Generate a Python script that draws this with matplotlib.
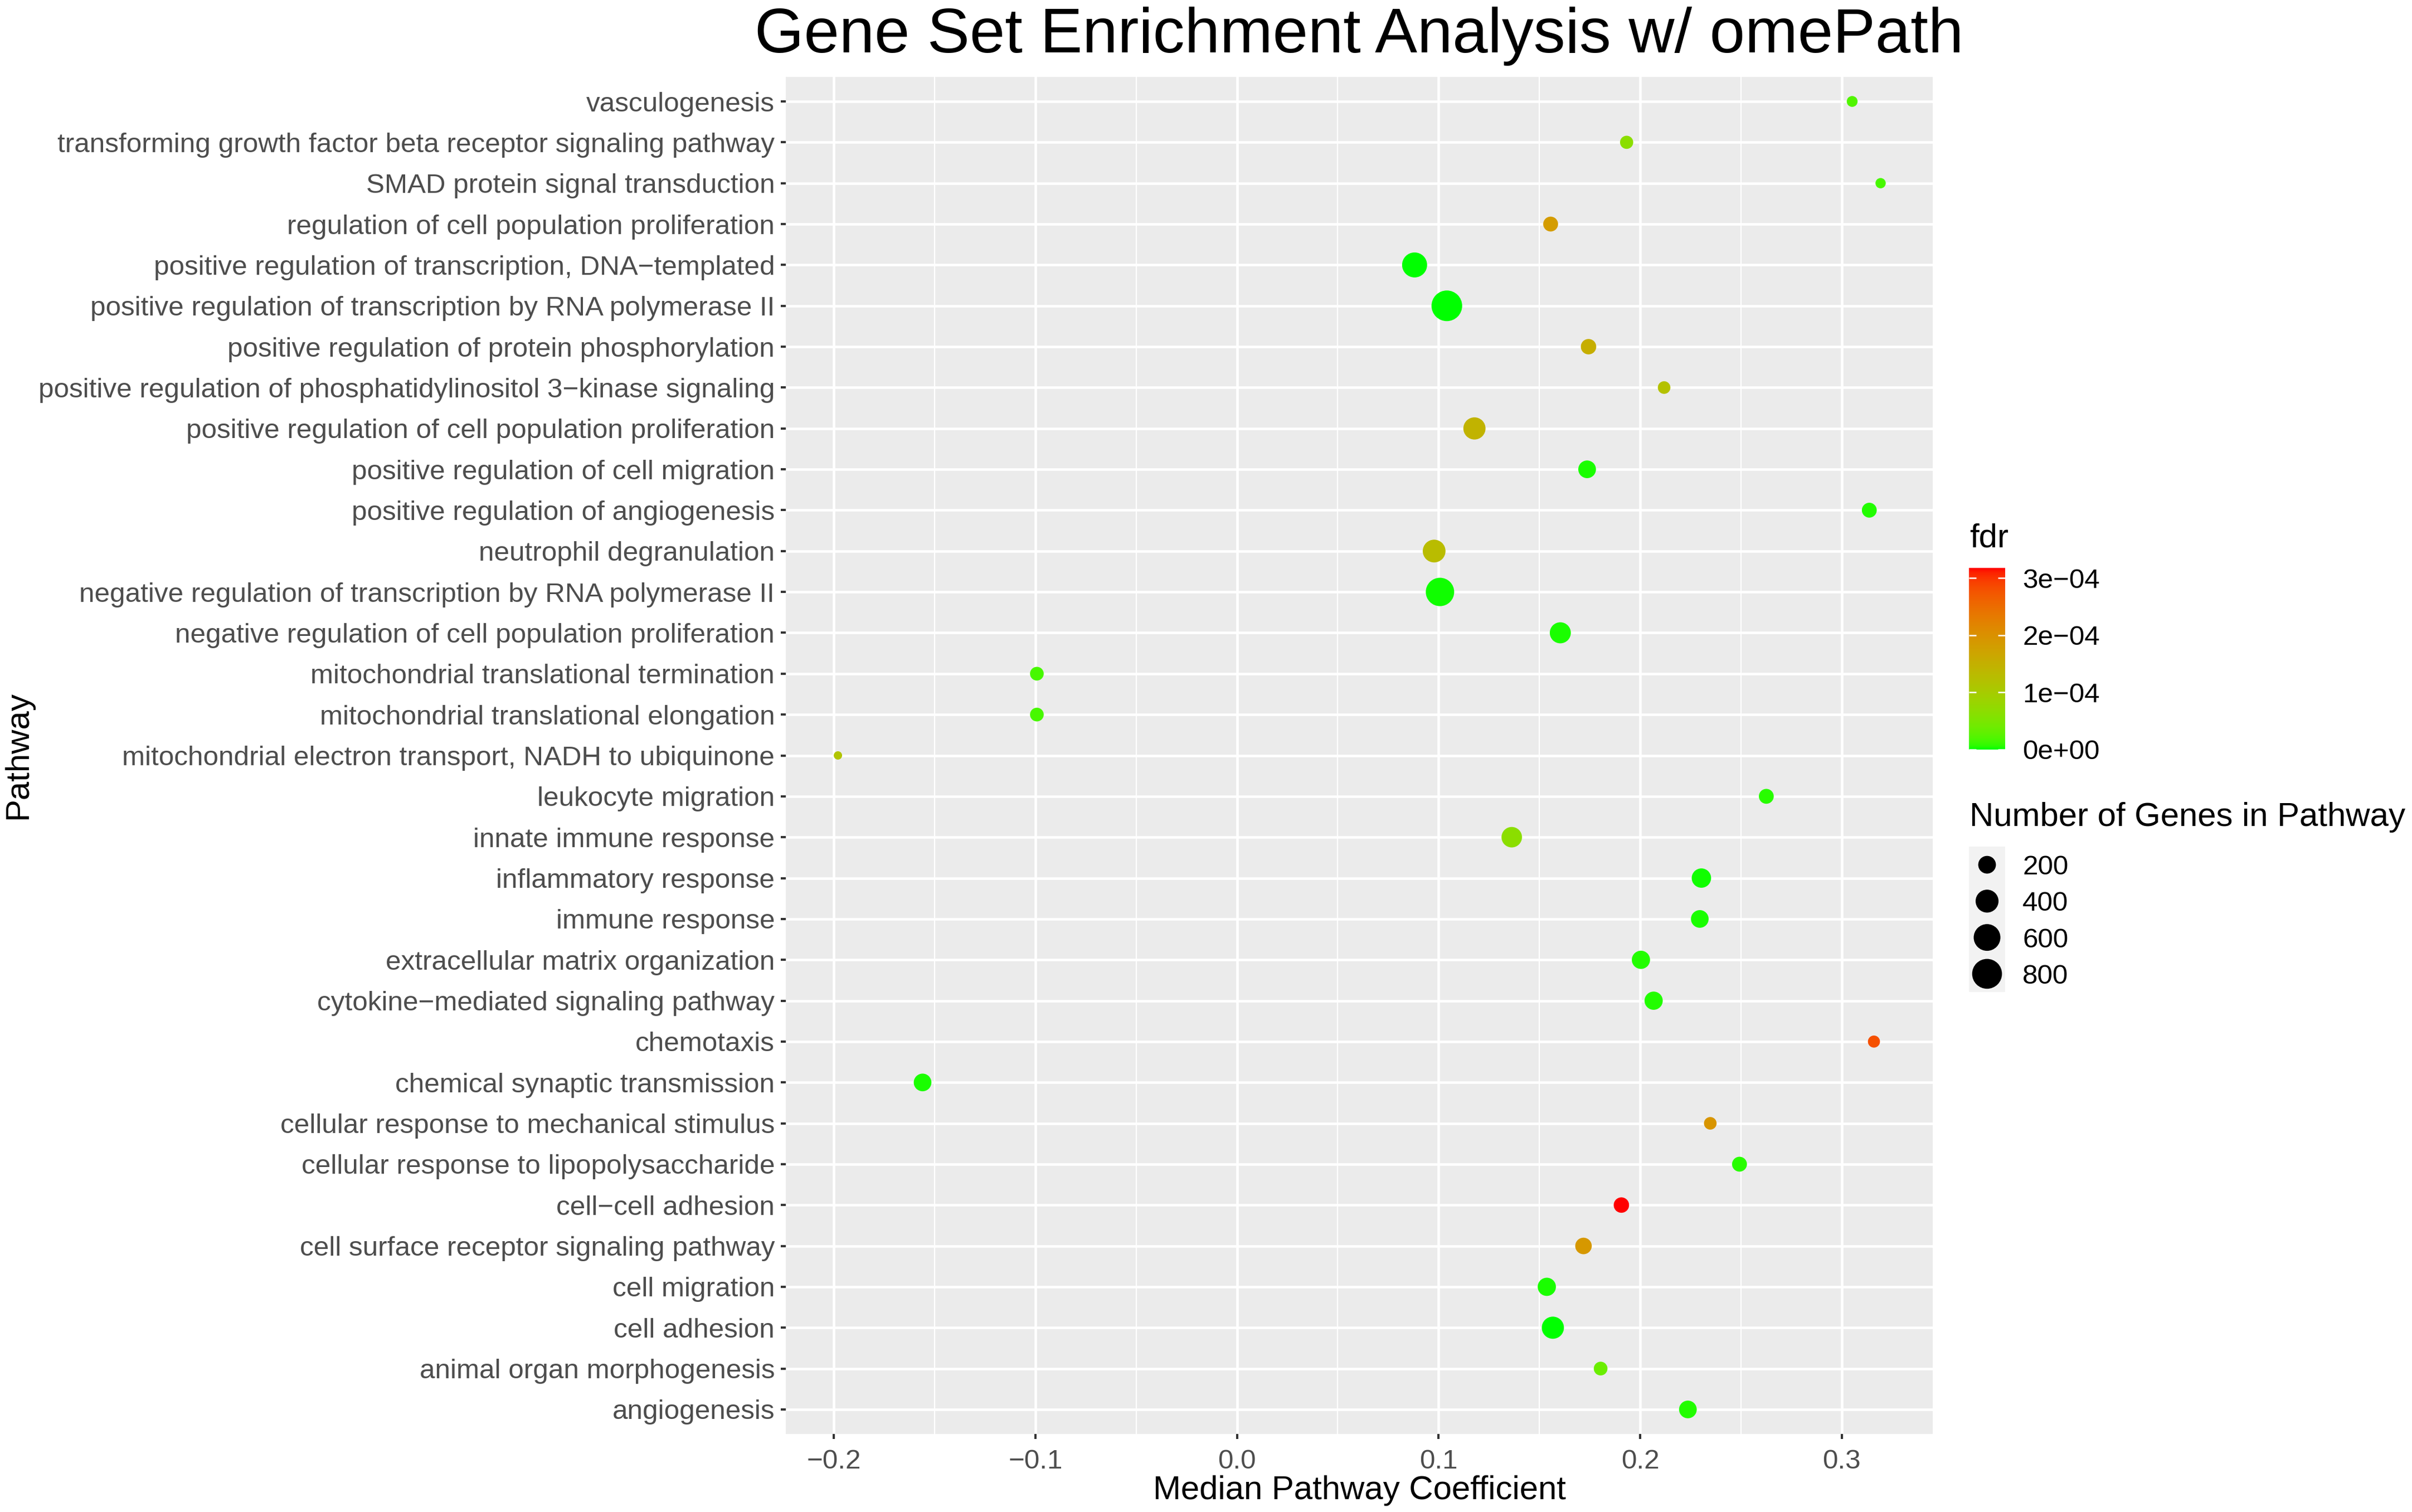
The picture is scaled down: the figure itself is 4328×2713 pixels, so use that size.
import numpy as np
import matplotlib
matplotlib.use("Agg")
import matplotlib.pyplot as plt
from matplotlib.colors import ListedColormap, Normalize
from matplotlib.transforms import blended_transform_factory

plt.rcParams['font.family'] = ['Liberation Sans', 'DejaVu Sans']

# ---------------- data (bottom -> top, alphabetical as in the chart) ----------------
pathways = [
    "angiogenesis",
    "animal organ morphogenesis",
    "cell adhesion",
    "cell migration",
    "cell surface receptor signaling pathway",
    "cell\u2212cell adhesion",
    "cellular response to lipopolysaccharide",
    "cellular response to mechanical stimulus",
    "chemical synaptic transmission",
    "chemotaxis",
    "cytokine\u2212mediated signaling pathway",
    "extracellular matrix organization",
    "immune response",
    "inflammatory response",
    "innate immune response",
    "leukocyte migration",
    "mitochondrial electron transport, NADH to ubiquinone",
    "mitochondrial translational elongation",
    "mitochondrial translational termination",
    "negative regulation of cell population proliferation",
    "negative regulation of transcription by RNA polymerase II",
    "neutrophil degranulation",
    "positive regulation of angiogenesis",
    "positive regulation of cell migration",
    "positive regulation of cell population proliferation",
    "positive regulation of phosphatidylinositol 3\u2212kinase signaling",
    "positive regulation of protein phosphorylation",
    "positive regulation of transcription by RNA polymerase II",
    "positive regulation of transcription, DNA\u2212templated",
    "regulation of cell population proliferation",
    "SMAD protein signal transduction",
    "transforming growth factor beta receptor signaling pathway",
    "vasculogenesis",
]

median_coef = [
    0.2237, 0.1804, 0.1567, 0.1537, 0.1719, 0.1907, 0.2493, 0.2348,
    -0.1560, 0.3160, 0.2067, 0.2004, 0.2296, 0.2304, 0.1363, 0.2626,
    -0.1980, -0.0993, -0.0993, 0.1604, 0.1007, 0.0978, 0.3137, 0.1737,
    0.1178, 0.2119, 0.1744, 0.1041, 0.0881, 0.1556, 0.3193, 0.1933, 0.3052,
]

n_genes = [
    199, 106, 366, 216, 167, 140, 128, 89,
    199, 82, 216, 216, 199, 254, 296, 128,
    60, 106, 106, 318, 703, 392, 128, 199,
    366, 89, 140, 856, 504, 128, 66, 97, 70,
]

fdr = [
    4e-6, 3.5e-5, 1e-6, 3e-6, 1.9e-4, 3.18e-4, 6e-6, 1.95e-4,
    3e-6, 2.8e-4, 4e-6, 4e-6, 3e-6, 2e-6, 6.5e-5, 5e-6,
    1.15e-4, 1.5e-5, 1.5e-5, 3e-6, 2e-6, 1.3e-4, 4e-6, 3e-6,
    1.45e-4, 1.2e-4, 1.55e-4, 0.0, 1e-7, 1.85e-4, 1.5e-5, 6.5e-5, 2.0e-5,
]

x_ticks = [-0.2, -0.1, 0.0, 0.1, 0.2, 0.3]
x_tick_labels = ["\u22120.2", "\u22120.1", "0.0", "0.1", "0.2", "0.3"]
fdr_breaks = [0.0, 1e-4, 2e-4, 3e-4]
fdr_break_labels = ["0e+00", "1e\u221204", "2e\u221204", "3e\u221204"]
size_breaks = [200, 400, 600, 800]

title = "Gene Set Enrichment Analysis w/ omePath"
xlabel = "Median Pathway Coefficient"
ylabel = "Pathway"

# ---------------- helpers ----------------
W, H, DPI = 4328, 2713, 300
PT = 72.0 / DPI  # points per pixel


def fx(px):
    return px / W


def fy(py):
    return 1.0 - py / H


def srgb_to_lab(rgb):
    c = np.asarray(rgb, float)
    lin = np.where(c <= 0.04045, c / 12.92, ((c + 0.055) / 1.055) ** 2.4)
    M = np.array([[0.4124564, 0.3575761, 0.1804375],
                  [0.2126729, 0.7151522, 0.0721750],
                  [0.0193339, 0.1191920, 0.9503041]])
    xyz = M @ lin / np.array([0.95047, 1.0, 1.08883])
    d = 6 / 29
    f = np.where(xyz > d ** 3, np.cbrt(xyz), xyz / (3 * d * d) + 4 / 29)
    return np.array([116 * f[1] - 16, 500 * (f[0] - f[1]), 200 * (f[1] - f[2])])


def lab_to_srgb(lab):
    L, a, b = lab
    fy_ = (L + 16) / 116
    fx_ = fy_ + a / 500
    fz_ = fy_ - b / 200
    d = 6 / 29
    f = np.array([fx_, fy_, fz_])
    xyz = np.where(f > d, f ** 3, 3 * d * d * (f - 4 / 29)) * np.array([0.95047, 1.0, 1.08883])
    Minv = np.array([[3.2404542, -1.5371385, -0.4985314],
                     [-0.9692660, 1.8760108, 0.0415560],
                     [0.0556434, -0.2040259, 1.0572252]])
    lin = np.clip(Minv @ xyz, 0, 1)
    c = np.where(lin <= 0.0031308, 12.92 * lin, 1.055 * lin ** (1 / 2.4) - 0.055)
    return np.clip(c, 0, 1)


lab_lo = srgb_to_lab([0, 1, 0])   # green
lab_hi = srgb_to_lab([1, 0, 0])   # red
cmap = ListedColormap([lab_to_srgb((1 - t) * lab_lo + t * lab_hi) for t in np.linspace(0, 1, 256)])

coef = np.array(median_coef)
genes = np.array(n_genes, float)
fdr_arr = np.array(fdr)
ypos = np.arange(len(pathways))
norm = Normalize(vmin=fdr_arr.min(), vmax=fdr_arr.max())

D_MIN_PX, D_MAX_PX = 15.0, 55.0
g_lo, g_hi = genes.min(), genes.max()


def marker_area(n):
    n = np.asarray(n, float)
    d_px = D_MIN_PX + (D_MAX_PX - D_MIN_PX) * np.sqrt(np.clip((n - g_lo) / (g_hi - g_lo), 0, 1))
    return (d_px * PT) ** 2


# ---------------- figure ----------------
fig = plt.figure(figsize=(W / DPI, H / DPI), dpi=DPI, facecolor='white')

PX_L, PX_R, PX_T, PX_B = 1410, 3468, 138, 2573
ax = fig.add_axes([fx(PX_L), fy(PX_B), (PX_R - PX_L) / W, (PX_B - PX_T) / H])
ax.set_facecolor('#EBEBEB')
for sp in ax.spines.values():
    sp.set_visible(False)

ax.scatter(coef, ypos, s=marker_area(genes), c=fdr_arr, cmap=cmap, norm=norm,
           linewidths=0, zorder=3)

lo, hi = coef.min(), coef.max()
rng = hi - lo
ax.set_xlim(lo - 0.05 * rng, hi + 0.05 * rng)
ax.set_ylim(-0.6, len(pathways) - 0.4)

ax.set_xticks(x_ticks, x_tick_labels)
ax.set_xticks([t + 0.05 for t in x_ticks[:-1]], minor=True)
ax.set_yticks(ypos, pathways)
ax.set_axisbelow(True)
ax.grid(which='major', color='white', linewidth=4.5 * PT)
ax.grid(which='minor', axis='x', color='white', linewidth=2.3 * PT)

ax.tick_params(axis='both', which='major', length=9 * PT, width=4 * PT,
               color='#333333', labelcolor='#4D4D4D', labelsize=11.85)
ax.tick_params(axis='x', which='major', pad=4.4)
ax.tick_params(axis='y', which='major', pad=2.6)
ax.tick_params(which='minor', length=0)

ax.set_title(title, fontsize=27.3, color='black', pad=0,
             y=(PX_B - 94) / (PX_B - PX_T))
ax.set_xlabel(xlabel, fontsize=14.4, color='black', va='baseline')
ax.xaxis.set_label_coords(0.5, (PX_B - 2690) / (PX_B - PX_T))
ax.set_ylabel(ylabel, fontsize=14.4, color='black', va='center')
ax.yaxis.set_label_coords((33 - PX_L) / (PX_R - PX_L), 0.5)

# ---------------- colour legend ----------------
CB_L, CB_R, CB_T, CB_B = 3533, 3598, 1019, 1345
cax = fig.add_axes([fx(CB_L), fy(CB_B), (CB_R - CB_L) / W, (CB_B - CB_T) / H])
grad = np.linspace(norm.vmin, norm.vmax, 400)[:, None]
cax.imshow(grad, aspect='auto', cmap=cmap, norm=norm, origin='lower',
           extent=[0, 1, norm.vmin, norm.vmax], interpolation='bilinear')
cax.set_xlim(0, 1)
cax.set_ylim(norm.vmin, norm.vmax)
for b in fdr_breaks:
    cax.plot([0, 0.2], [b, b], color='white', linewidth=2.5 * PT, solid_capstyle='butt')
    cax.plot([0.8, 1], [b, b], color='white', linewidth=2.5 * PT, solid_capstyle='butt')
for sp in cax.spines.values():
    sp.set_visible(False)
cax.set_xticks([])
cax.yaxis.tick_right()
cax.set_yticks(fdr_breaks, fdr_break_labels)
cax.tick_params(axis='y', length=0, pad=(3629 - CB_R) * PT, labelsize=11.85, labelcolor='black')
fig.text(fx(3534), fy(981), "fdr", fontsize=14.4, ha='left', va='baseline', color='black')

# ---------------- size legend ----------------
fig.text(fx(3534), fy(1482), "Number of Genes in Pathway", fontsize=14.4,
         ha='left', va='baseline', color='black')
K_T, K_B = 1519, 1780
kax = fig.add_axes([fx(CB_L), fy(K_B), (CB_R - CB_L) / W, (K_B - K_T) / H])
kax.set_facecolor('#F2F2F2')
for sp in kax.spines.values():
    sp.set_visible(False)
kax.set_xlim(0, 1)
kax.set_ylim(len(size_breaks) - 0.5, -0.5)
kax.set_xticks([])
kax.set_yticks([])
kpos = np.arange(len(size_breaks))
kax.scatter(np.full(len(size_breaks), 0.5), kpos, s=marker_area(size_breaks),
            color='black', linewidths=0, clip_on=False)
btr = blended_transform_factory(kax.transAxes, kax.transData)
for i, lab in enumerate(size_breaks):
    kax.text((3629 - CB_L) / (CB_R - CB_L), i, str(lab), transform=btr,
             fontsize=11.85, ha='left', va='center_baseline', color='black')

fig.savefig("out.png", dpi=DPI, facecolor='white')
